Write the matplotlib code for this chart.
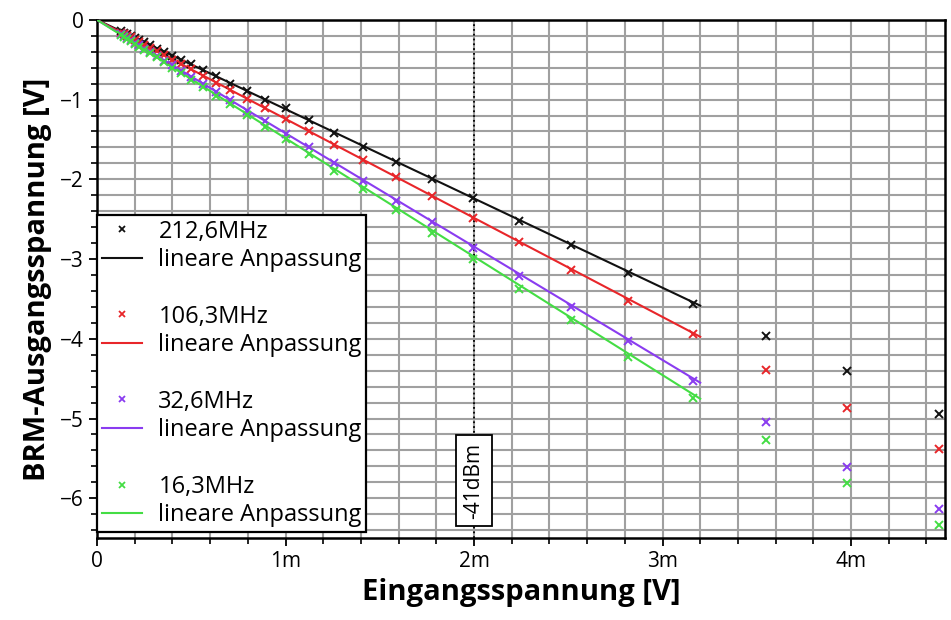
import matplotlib
matplotlib.use("Agg")
import matplotlib.pyplot as plt
from matplotlib.lines import Line2D
from matplotlib.ticker import MultipleLocator, FuncFormatter

plt.rcParams["font.family"] = ["Open Sans", "DejaVu Sans"]
plt.rcParams["axes.unicode_minus"] = True

# Eingangsspannung in mV (1-dB-Schritte)
x_mess = [0.126, 0.141, 0.158, 0.178, 0.200, 0.224, 0.251, 0.282, 0.316, 0.355,
          0.398, 0.447, 0.501, 0.562, 0.631, 0.708, 0.794, 0.891, 1.000, 1.122,
          1.259, 1.413, 1.585, 1.778, 1.995, 2.239, 2.512, 2.818, 3.162, 3.548,
          3.981, 4.467]

y_212 = [-0.14, -0.16, -0.18, -0.20, -0.23, -0.25, -0.28, -0.32, -0.36, -0.40,
         -0.45, -0.50, -0.56, -0.63, -0.71, -0.80, -0.89, -1.00, -1.10, -1.26,
         -1.42, -1.59, -1.78, -2.00, -2.24, -2.52, -2.82, -3.17, -3.56, -3.97,
         -4.40, -4.94]
y_106 = [-0.16, -0.18, -0.20, -0.22, -0.25, -0.28, -0.31, -0.35, -0.39, -0.44,
         -0.50, -0.56, -0.62, -0.70, -0.79, -0.88, -0.99, -1.11, -1.24, -1.40,
         -1.57, -1.76, -1.97, -2.21, -2.49, -2.79, -3.14, -3.52, -3.94, -4.39,
         -4.87, -5.38]
y_32 = [-0.18, -0.20, -0.23, -0.25, -0.29, -0.32, -0.36, -0.40, -0.45, -0.51,
        -0.57, -0.64, -0.72, -0.80, -0.90, -1.01, -1.14, -1.27, -1.43, -1.60,
        -1.80, -2.02, -2.27, -2.54, -2.86, -3.21, -3.60, -4.03, -4.53, -5.04,
        -5.61, -6.13]
y_16 = [-0.19, -0.21, -0.24, -0.27, -0.30, -0.34, -0.38, -0.42, -0.47, -0.53,
        -0.60, -0.67, -0.75, -0.84, -0.95, -1.06, -1.19, -1.34, -1.50, -1.68,
        -1.89, -2.12, -2.38, -2.67, -3.00, -3.37, -3.77, -4.23, -4.74, -5.27,
        -5.81, -6.34]

frequenzen = ["212,6MHz", "106,3MHz", "32,6MHz", "16,3MHz"]
messungen = [y_212, y_106, y_32, y_16]
steigungen = [-1.12, -1.242, -1.422, -1.485]  # V pro mV
farben = ["#111111", "#e8262a", "#8a3cf0", "#44dd44"]
fit_bereich = [0.0, 3.2]

fig = plt.figure(figsize=(9.51, 6.2), dpi=100)
ax = fig.add_axes([0.102, 0.132, 0.892, 0.836])

handles = []
labels = []
for i in range(4):
    ax.plot(x_mess, messungen[i], linestyle="none", marker="x", color=farben[i],
            markersize=6, markeredgewidth=1.4, zorder=4)
    ax.plot(fit_bereich, [steigungen[i] * v for v in fit_bereich],
            color=farben[i], linewidth=1.5, zorder=3)
    if i > 0:
        handles.append(Line2D([], [], linestyle="none"))
        labels.append(" ")
    handles.append(Line2D([], [], linestyle="none", marker="x", color=farben[i],
                          markersize=5, markeredgewidth=1.3))
    labels.append(frequenzen[i])
    handles.append(Line2D([], [], color=farben[i], linewidth=1.5))
    labels.append("lineare Anpassung")

ax.axvline(2.0, color="black", linestyle=":", linewidth=1.3, zorder=2)
ax.text(2.0, -5.78, "-41dBm", rotation=90, ha="center", va="center", fontsize=15,
        bbox=dict(boxstyle="square,pad=0.35", facecolor="white", edgecolor="black",
                  linewidth=1.3), zorder=5)

ax.set_xlim(0, 4.5)
ax.set_ylim(-6.5, 0)
ax.xaxis.set_major_locator(MultipleLocator(1))
ax.xaxis.set_minor_locator(MultipleLocator(0.2))
ax.yaxis.set_major_locator(MultipleLocator(1))
ax.yaxis.set_minor_locator(MultipleLocator(0.2))
ax.xaxis.set_major_formatter(FuncFormatter(lambda v, p: "0" if v == 0 else f"{v:g}m"))
ax.yaxis.set_major_formatter(FuncFormatter(lambda v, p: "0" if v == 0 else f"\u2212{-v:g}"))
ax.grid(True, which="both", color="#a0a0a0", linewidth=1.5)
ax.set_axisbelow(True)
ax.tick_params(which="major", direction="out", length=6, width=1.3, labelsize=15)
ax.tick_params(which="minor", direction="out", length=4, width=1.2)
for s in ax.spines.values():
    s.set_linewidth(1.8)

ax.set_xlabel("Eingangsspannung [V]", fontsize=21, fontweight="bold", labelpad=4)
ax.set_ylabel("BRM-Ausgangsspannung [V]", fontsize=21, fontweight="bold", labelpad=6)

leg = ax.legend(handles, labels, loc="lower left", bbox_to_anchor=(0.0, 0.012),
                fontsize=17, frameon=True, fancybox=False, framealpha=1,
                edgecolor="black", handlelength=1.7, labelspacing=0.185,
                borderaxespad=0.0, borderpad=0.2, handletextpad=0.7)
leg.get_frame().set_linewidth(1.6)

fig.savefig("out.png", dpi=100)
